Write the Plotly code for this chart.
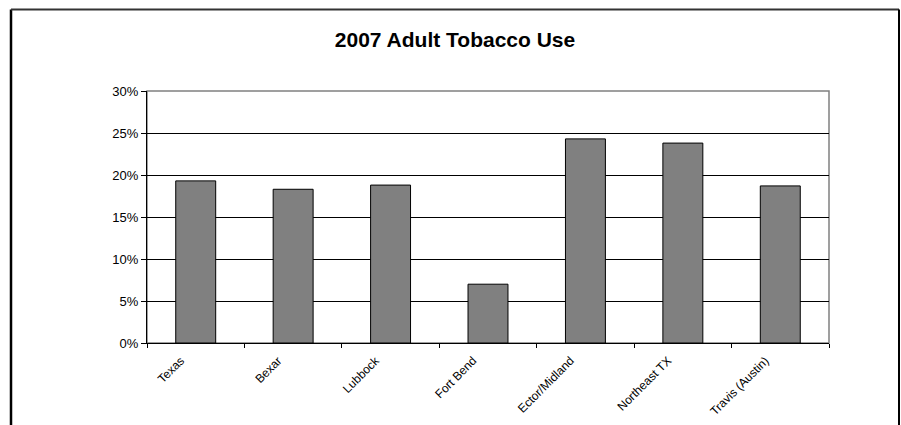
import plotly.graph_objects as go

# Adult smoking prevalence, 2007
regions = ["Texas", "Bexar", "Lubbock", "Fort Bend", "Ector/Midland", "Northeast TX", "Travis (Austin)"]
tobacco_use = [0.193, 0.183, 0.188, 0.070, 0.243, 0.238, 0.187]
y_ticks = [0, 0.05, 0.10, 0.15, 0.20, 0.25, 0.30]

W, H = 901, 425
ML, MR, MT, MB = 147, 72, 91, 82
pw, ph = W - ML - MR, H - MT - MB

def px_x(x):
    return (x - ML) / pw

def px_y(y):
    return (H - MB - y) / ph

FONT = "Liberation Sans, Arial, sans-serif"

fig = go.Figure(
    go.Bar(
        x=regions,
        y=tobacco_use,
        marker=dict(color="#808080", line=dict(color="#000000", width=1)),
        hoverinfo="x+y",
    )
)

fig.update_layout(
    width=W,
    height=H,
    margin=dict(l=ML, r=MR, t=MT, b=MB, autoexpand=False),
    paper_bgcolor="white",
    plot_bgcolor="white",
    bargap=0.59,
    showlegend=False,
    title=dict(
        text="<b>2007 Adult Tobacco Use</b>",
        x=0.505,
        xanchor="center",
        y=1 - 40 / H,
        yanchor="middle",
        font=dict(family=FONT, size=21, color="black"),
    ),
    font=dict(family=FONT, color="black"),
    shapes=[
        # plot area frame
        dict(type="rect", xref="paper", yref="paper", x0=0, x1=1, y0=0, y1=1,
             line=dict(color="#808080", width=1.5), layer="below"),
        # chart border
        dict(type="line", xref="paper", yref="paper",
             x0=px_x(11), x1=px_x(11), y0=px_y(9.5), y1=px_y(440),
             line=dict(color="black", width=2.5)),
        dict(type="line", xref="paper", yref="paper",
             x0=px_x(11), x1=px_x(899), y0=px_y(9.5), y1=px_y(9.5),
             line=dict(color="#333333", width=2)),
        dict(type="line", xref="paper", yref="paper",
             x0=px_x(899), x1=px_x(899), y0=px_y(9.5), y1=px_y(440),
             line=dict(color="black", width=2)),
    ],
)

fig.update_xaxes(
    type="category",
    automargin=False,
    showline=True,
    linecolor="black",
    linewidth=1,
    showgrid=False,
    ticks="outside",
    tickson="boundaries",
    ticklen=4,
    tickcolor="black",
    tickangle=-45,
    ticklabelshift=-15,
    ticklabelstandoff=5,
    tickfont=dict(family=FONT, size=12, color="black"),
)

fig.update_yaxes(
    range=[0, 0.30],
    automargin=False,
    tickvals=y_ticks,
    tickformat=".0%",
    showline=True,
    linecolor="black",
    linewidth=1,
    showgrid=True,
    gridcolor="black",
    gridwidth=1,
    zeroline=False,
    ticks="outside",
    ticklen=5,
    tickcolor="black",
    tickfont=dict(family=FONT, size=13, color="black"),
)

fig.write_html("out.html")
